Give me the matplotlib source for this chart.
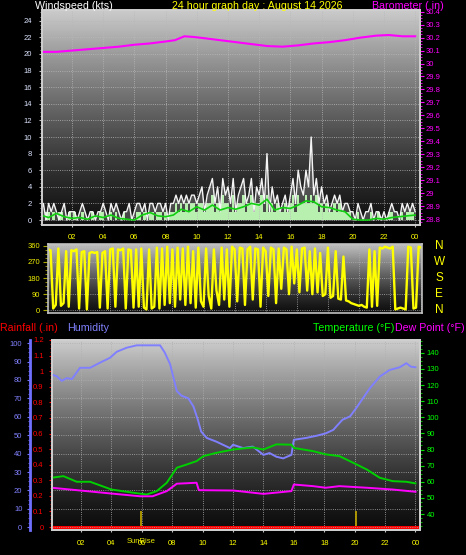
import numpy as np
import matplotlib.pyplot as plt
from matplotlib.ticker import MultipleLocator, FuncFormatter

plt.rcParams['font.family'] = ['Liberation Sans', 'DejaVu Sans']

W, H = 466, 555

# x axis: hours of the day
tick_hours = [2, 4, 6, 8, 10, 12, 14, 16, 18, 20, 22, 24]
tick_labels = ['02', '04', '06', '08', '10', '12', '14', '16', '18', '20', '22', '00']

# wind gust (kts), 10 minute samples from 00:00
wind_gust = [1, 2, 0, 2, 1, 2,
             1, 0, 1, 2, 0, 1,
             1, 1, 0, 1, 2, 1,
             0, 1, 1, 0, 1, 1,
             2, 1, 0, 2, 1, 2,
             1, 0, 1, 1, 2, 0,
             1, 2, 2, 1, 2, 0,
             2, 2, 1, 2, 2, 1,
             2, 0, 2, 2, 3, 2,
             3, 2, 3, 2, 3, 3,
             2, 3, 4, 1, 3, 4,
             5, 2, 4, 1, 5, 3,
             4, 2, 5, 1, 3, 4,
             5, 2, 3, 5, 1, 4,
             3, 5, 2, 8, 1, 4,
             2, 3, 1, 2, 3, 1,
             3, 5, 2, 6, 4, 3,
             6, 4, 10, 3, 5, 2,
             4, 2, 3, 1, 2, 3,
             2, 3, 1, 2, 2, 1,
             1, 0, 2, 1, 0, 1,
             1, 2, 0, 1, 1, 0,
             1, 0, 1, 2, 1, 1,
             0, 2, 1, 2, 1, 2,
             1]

# wind speed (kts), 10 minute samples
wind_speed = [1, 0, 1, 1, 0, 1,
              0, 1, 1, 0, 0, 1,
              0, 1, 0, 0, 1, 0,
              0, 0, 1, 0, 0, 1,
              1, 0, 0, 1, 0, 1,
              0, 0, 1, 0, 0, 0,
              0, 1, 1, 0, 1, 0,
              1, 1, 0, 1, 1, 0,
              1, 0, 1, 1, 2, 1,
              2, 1, 2, 1, 2, 2,
              1, 2, 2, 1, 2, 2,
              3, 1, 2, 1, 3, 2,
              2, 1, 3, 1, 2, 2,
              3, 1, 2, 3, 1, 2,
              2, 3, 1, 3, 1, 2,
              1, 2, 1, 1, 2, 1,
              2, 3, 1, 3, 2, 2,
              3, 2, 3, 2, 3, 1,
              2, 1, 2, 1, 1, 2,
              1, 2, 1, 1, 1, 1,
              0, 0, 1, 0, 0, 0,
              0, 1, 0, 0, 1, 0,
              0, 0, 1, 1, 0, 0,
              0, 1, 0, 1, 1, 1,
              0]

# average wind (kts), 30 minute samples
wind_avg = [0.6, 0.3, 0.8, 0.4, 0.2, 0.3, 0.1, 0.5, 0.3, 0.6, 0.2, 0.1,
            0.0, 0.6, 0.9, 0.5, 0.4, 0.6, 1.3, 1.0, 1.6, 1.2, 1.8, 1.2,
            1.5, 1.3, 1.6, 2.0, 1.8, 2.5, 1.2, 1.5, 1.4, 1.8, 2.3, 2.2,
            1.6, 1.5, 1.2, 1.0, 0.1, 0.0, 0.0, 0.2, 0.1, 0.3, 0.4, 0.5,
            0.6]

baro_hours = [0, 1, 2, 3, 4, 5, 6, 7, 8, 8.6, 9.2, 9.8, 10.5, 11.5, 12.5, 13.5,
              14.5, 15.5, 16.5, 17.5, 18.5, 19.5, 20.5, 21.5, 22.3, 23.2, 24]
baro_in = [30.09, 30.09, 30.10, 30.11, 30.12, 30.13, 30.145, 30.155, 30.17, 30.18,
           30.21, 30.205, 30.195, 30.18, 30.165, 30.15, 30.135, 30.13, 30.14,
           30.155, 30.165, 30.18, 30.20, 30.215, 30.22, 30.21, 30.21]

# wind direction (deg), 10 minute samples
wind_dir = [340, 335, 10, 30, 345, 25,
            40, 330, 20, 335, 330, 340,
            10, 325, 330, 5, 320, 325,
            320, 325, 15, 320, 330, 10,
            340, 345, 20, 340, 335, 345,
            10, 340, 335, 15, 340, 20,
            345, 15, 5, 340, 10, 20,
            350, 10, 345, 30, 355, 40,
            340, 20, 350, 60, 345, 30,
            355, 40, 330, 15, 350, 50,
            20, 345, 80, 10, 340, 110,
            30, 350, 60, 340, 20, 355,
            340, 50, 350, 345, 30, 340,
            355, 60, 345, 340, 20, 350,
            330, 80, 350, 340, 40, 345,
            120, 350, 340, 90, 355, 150,
            340, 100, 345, 350, 110, 330,
            90, 345, 100, 320, 80, 90,
            350, 70, 80, 330, 65, 60,
            300, 55, 50, 40, 35, 30,
            25, 30, 20, 15, 340, 20,
            330, 25, 350, 345, 355, 350,
            345, 355, 5, 10, 15, 10,
            5, 355, 350, 10, 15, 355,
            350]

hum_hours = [0.07, 0.4, 0.73, 1.06, 1.4, 1.93, 2.6, 3.25, 3.9, 4.35, 5.0, 5.66, 7.2,
             7.5, 7.86, 8.07, 8.3, 8.6, 9.06, 9.4, 9.7, 9.9, 10.27, 10.9, 11.8, 12.0,
             12.66, 13.3, 14.0, 14.4, 14.85, 15.3, 15.84, 16.0, 16.8, 17.5, 18.1,
             18.6, 18.8, 19.2, 19.7, 20.1, 20.55, 21.0, 21.65, 22.3, 22.97, 23.4,
             23.7, 24.0]
hum_pct = [83, 82, 79.5, 81, 80.5, 86.6, 86.6, 89.4, 92, 95.3, 97.5, 98.8, 98.8,
           95, 88.6, 81.6, 74, 71.5, 70, 65.5, 58, 52, 48.5, 46.5, 43, 44.8,
           43, 43.8, 39.3, 40.3, 38.3, 37.4, 39.3, 47.5, 48.5, 49.7, 51,
           52.9, 54.8, 58.4, 60.2, 64.7, 70.1, 75.5, 81.8, 85.4, 86.9, 89.1,
           87.2, 86.9]

temp_hours = [0.07, 0.84, 1.72, 2.6, 4.0, 5.44, 6.32, 6.98, 7.64, 8.3, 8.95, 9.6,
              10.05, 10.93, 11.8, 12.0, 13.3, 14.0, 14.85, 15.84, 16.0, 17.26,
              18.1, 19.0, 19.9, 20.8, 21.65, 22.5, 23.4, 24.0]
temp_f = [62.5, 63.5, 60, 60, 55.2, 53.2, 52.1, 54.2, 59.4, 68.7, 70.7, 72.8,
          75.9, 78, 79.6, 80, 81.3, 80, 83.2, 83, 81, 79,
          77, 75.9, 71.8, 67.6, 62.5, 60.4, 60, 59]

dew_hours = [0.07, 1.72, 4.0, 5.9, 6.7, 7.64, 8.3, 9.6, 9.75, 11.8, 12.0, 14.0,
             15.84, 16.0, 17.26, 18.1, 19.0, 20.8, 22.5, 24.0]
dew_f = [56.3, 54.8, 52.7, 51, 51, 54.2, 58.8, 59.4, 54.8, 54.6, 54.6, 52.5,
         54.2, 58.3, 57.3, 56.3, 57.3, 56.3, 55.2, 53.8]

rain_hours = [0, 24.3]
rain_in = [0, 0]

sunrise_hour = 5.93
sunset_hour = 20.07


def px_rect(x0, y0, x1, y1):
    return [x0 / W, 1 - y1 / H, (x1 - x0) / W, (y1 - y0) / H]


def gradient_bg(rect, top, bottom):
    bg = fig.add_axes(rect, zorder=-1)
    s = np.linspace(1, 0, 256)[:, None]
    bg.imshow(bottom + (top - bottom) * s ** 1.3, cmap='gray', vmin=0, vmax=1,
              aspect='auto', extent=[0, 1, 0, 1], interpolation='bilinear')
    bg.axis('off')


def frame(ax, color='#d0d0d0', lw=1.2):
    for sp in ax.spines.values():
        sp.set_color(color)
        sp.set_linewidth(lw)


fig = plt.figure(figsize=(W / 100, H / 100), dpi=100, facecolor='black')

# ---------------- wind speed + barometer ----------------
r1 = px_rect(42, 10, 420, 225)
gradient_bg(r1, 0.80, 0.07)
ax1 = fig.add_axes(r1)
ax1.set_facecolor('none')
t10 = np.arange(len(wind_gust)) / 6
t30 = np.arange(len(wind_avg)) / 2
ax1.fill_between(t10, 0, wind_gust, color='#a8a8a8', alpha=0.35, lw=0)
ax1.fill_between(t10, 0, wind_speed, step='mid', color='#b8f0b0', lw=0)
ax1.plot(t10, wind_gust, color='#f4f4f4', lw=1.0)
ax1.plot(t30, wind_avg, color='#10d010', lw=1.2)
ax1.set_xlim(0.077, 24.31)
ax1.set_ylim(-0.6, 25.3)
ax1.set_xticks(tick_hours)
ax1.set_xticklabels(tick_labels)
ax1.yaxis.set_major_locator(MultipleLocator(2))
ax1.yaxis.set_minor_locator(MultipleLocator(0.5))
ax1.grid(color='#b8b8b8', ls=':', lw=0.6)
ax1.tick_params(axis='y', which='both', color='#c0c0c0', labelcolor='#dce4ff',
                labelsize=5.5, length=2.2, pad=5)
ax1.tick_params(axis='y', which='minor', length=1.5)
ax1.tick_params(axis='x', color='#c0c0c0', labelcolor='#ffff00',
                labelsize=5.5, length=1.5, pad=5)
frame(ax1)

ax1b = ax1.twinx()
ax1b.plot(baro_hours, baro_in, color='#ff00ff', lw=1.5)
ax1b.set_ylim(28.754, 30.413)
ax1b.yaxis.set_major_locator(MultipleLocator(0.1))
ax1b.yaxis.set_minor_locator(MultipleLocator(0.025))
ax1b.yaxis.set_major_formatter(FuncFormatter(lambda v, p: f'{v:.1f}'.rstrip('0').rstrip('.')))
ax1b.tick_params(axis='y', which='both', color='#ff00ff', labelcolor='#ff00ff',
                 labelsize=5.5, length=3, pad=1)
ax1b.tick_params(axis='y', which='minor', length=1.5)
frame(ax1b)

# ---------------- wind direction ----------------
r2 = px_rect(48, 244, 422, 313)
gradient_bg(r2, 0.76, 0.06)
ax2 = fig.add_axes(r2)
ax2.set_facecolor('none')
ax2.plot(t10, wind_dir, color='#ffff00', lw=1.7)
ax2.set_xlim(0, 24.05)
ax2.set_ylim(-15, 370)
ax2.set_xticks(tick_hours)
ax2.set_xticklabels([])
ax2.set_yticks([0, 90, 180, 270, 360])
ax2.yaxis.set_minor_locator(MultipleLocator(22.5))
ax2.grid(color='#b0b0b0', ls=':', lw=0.6)
ax2.tick_params(axis='x', length=0)
ax2.tick_params(axis='y', which='both', color='#a8a800', labelcolor='#f0f000',
                labelsize=5.5, length=3.5, pad=2)
ax2.tick_params(axis='y', which='minor', length=2)
frame(ax2, '#c0c0c0')
for lab, deg in zip(['N', 'W', 'S', 'E', 'N'], [360, 270, 180, 90, 0]):
    ax2.text(1.046, deg, lab, transform=ax2.get_yaxis_transform(),
             color='#ffff00', fontsize=8.5, ha='center', va='center')

# ---------------- rain / humidity / temperature ----------------
r3 = px_rect(52, 340, 420, 530)
gradient_bg(r3, 0.80, 0.05)
ax3 = fig.add_axes(r3)
ax3.set_facecolor('none')
ax3.plot(rain_hours, rain_in, color='#ff0000', lw=2.2, zorder=5)
ax3.vlines([sunrise_hour, sunset_hour], 0, 0.1, color='#b8a000', lw=1.3)
ax3.set_xlim(0.09, 24.3)
ax3.set_ylim(-0.019, 1.2)
ax3.set_xticks(tick_hours)
ax3.set_xticklabels(tick_labels)
ax3.yaxis.set_major_locator(MultipleLocator(0.1))
ax3.yaxis.set_minor_locator(MultipleLocator(0.025))
ax3.yaxis.set_major_formatter(FuncFormatter(lambda v, p: f'{v:.1f}'.rstrip('0').rstrip('.')))
ax3.grid(axis='x', color='#b0b0b0', ls=':', lw=0.6)
ax3.tick_params(axis='y', which='both', color='#ff0000', labelcolor='#ff0000',
                labelsize=5.5, length=2.5, pad=3.5)
ax3.tick_params(axis='y', which='minor', length=1.5)
ax3.tick_params(axis='x', color='#c0c0c0', labelcolor='#ffff00',
                labelsize=5.5, length=1.5, pad=5.5)
ax3.text(sunrise_hour, -0.063, 'SunRise', transform=ax3.get_xaxis_transform(),
         color='#e8e800', fontsize=5.5, ha='center', va='center')
frame(ax3)

ax3h = ax3.twinx()
ax3h.spines['left'].set_position(('axes', -22 / 368))
ax3h.spines['left'].set_visible(True)
ax3h.yaxis.set_ticks_position('left')
ax3h.plot(hum_hours, hum_pct, color='#8080ff', lw=1.4)
ax3h.set_ylim(-1.5, 101.7)
ax3h.yaxis.set_major_locator(MultipleLocator(10))
ax3h.yaxis.set_minor_locator(MultipleLocator(2.5))
ax3h.grid(axis='y', color='#b0b0b0', ls=':', lw=0.6)
ax3h.tick_params(axis='y', which='both', color='#7070ff', labelcolor='#8080ff',
                 labelsize=5.5, length=2.5, pad=3)
ax3h.tick_params(axis='y', which='minor', length=1.5)
frame(ax3h)
ax3h.spines['left'].set_color('#7070ff')
ax3h.spines['left'].set_linewidth(2)

ax3t = ax3.twinx()
ax3t.plot(temp_hours, temp_f, color='#00d000', lw=1.4)
ax3t.plot(dew_hours, dew_f, color='#ff00ff', lw=1.4)
ax3t.set_ylim(30.1, 147.9)
ax3t.yaxis.set_major_locator(MultipleLocator(10))
ax3t.yaxis.set_minor_locator(MultipleLocator(2.5))
ax3t.tick_params(axis='y', which='both', color='#00e000', labelcolor='#00ff00',
                 labelsize=5.5, length=3, pad=2)
ax3t.tick_params(axis='y', which='minor', length=1.5)
frame(ax3t)

# ---------------- header texts ----------------
def label(x, y, s, color):
    fig.text(x / W, 1 - y / H, s, color=color, fontsize=7.7, ha='left', va='baseline')

label(35, 9, 'Windspeed (kts)', 'white')
label(172, 9, '24 hour graph day : August 14 2026', '#ffff00')
label(372, 9, 'Barometer (.in)', '#ff00ff')
label(0, 331, 'Rainfall (.in)', '#ff0000')
label(67, 331, 'Humidity', '#8080ff')
label(313, 331, 'Temperature (\u00b0F)', '#00ff00')
label(395, 331, 'Dew Point (\u00b0F)', '#ff00ff')

fig.savefig('out.png', dpi=100, facecolor='black')
